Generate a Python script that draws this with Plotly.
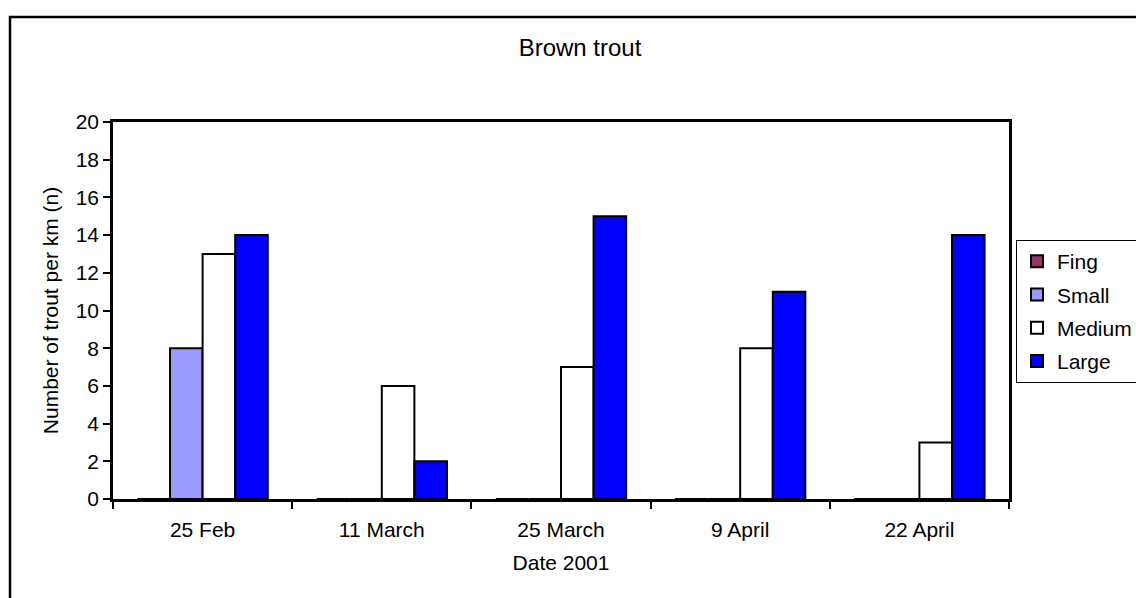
import plotly.graph_objects as go

# Survey dates and counts of brown trout per km, by size class
dates = ["25 Feb", "11 March", "25 March", "9 April", "22 April"]
fing = [0, 0, 0, 0, 0]
small = [8, 0, 0, 0, 0]
medium = [13, 6, 7, 8, 3]
large = [14, 2, 15, 11, 14]

series = [
    ("Fing", fing, "#993366"),
    ("Small", small, "#9999FF"),
    ("Medium", medium, "#FFFFFF"),
    ("Large", large, "#0000FF"),
]

FONT = "Liberation Sans, Arial, sans-serif"

fig = go.Figure()
for name, vals, color in series:
    fig.add_trace(go.Bar(
        x=dates, y=vals, name=name, legendgroup=name,
        marker=dict(color=color, line=dict(color="black", width=2)),
    ))

W, H = 1136, 598
L, R, T, B = 113, 127, 122, 99
pw, ph = W - L - R, H - T - B

fig.update_layout(
    width=W, height=H,
    margin=dict(l=L, r=R, t=T, b=B, autoexpand=False),
    paper_bgcolor="white", plot_bgcolor="white",
    font=dict(family=FONT, size=21, color="black"),
    barmode="group", bargap=1.5 / 5.5, bargroupgap=0,
    title=dict(text="Brown trout", x=(580 - L) / pw, xref="paper", xanchor="center",
               y=1 - 48 / H, yanchor="middle", font=dict(size=24)),
    showlegend=True,
    legend=dict(x=(1016 - L) / pw, y=(499 - 240) / ph, xanchor="left", yanchor="top",
                bordercolor="black", borderwidth=1, bgcolor="white",
                tracegroupgap=3, font=dict(size=21)),
)

fig.update_yaxes(
    range=[0, 20], dtick=2, tick0=0,
    showgrid=False, zeroline=False,
    showline=True, linecolor="black", linewidth=2.5, mirror=True,
    ticks="outside", ticklen=7, tickwidth=1.5, tickcolor="black",
    tickfont=dict(size=21),
    title=dict(text="Number of trout per km (n)", standoff=12, font=dict(size=21)),
    automargin=False,
)
fig.update_xaxes(
    showgrid=False, zeroline=False,
    showline=True, linecolor="black", linewidth=2.5, mirror=True,
    ticks="outside", ticklen=7, tickwidth=1.5, tickcolor="black",
    tickson="boundaries", ticklabelstandoff=10,
    tickfont=dict(size=21),
    title=dict(text="Date 2001", standoff=16, font=dict(size=21)),
    automargin=False,
)

# Chart-area frame
fig.add_shape(type="rect", xref="paper", yref="paper",
              x0=(10 - L) / pw, x1=1.3, y0=-0.4, y1=(H - B - 17) / ph,
              line=dict(color="black", width=2.5), fillcolor="rgba(0,0,0,0)",
              layer="below")

fig.write_html("out.html")
